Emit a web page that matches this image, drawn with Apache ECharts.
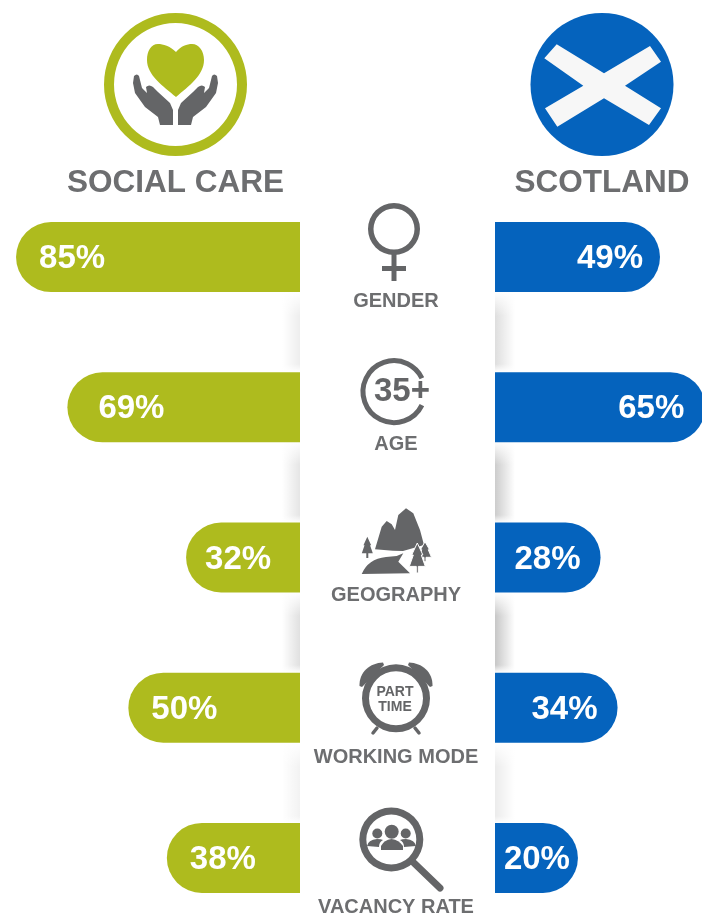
<!DOCTYPE html>
<html>
<head>
<meta charset="utf-8">
<style>html,body{margin:0;padding:0;background:#fff}#chart{width:702px;height:916px}</style>
<script src="https://cdn.jsdelivr.net/npm/echarts@6/dist/echarts.min.js"></script>
</head>
<body>
<div id="chart"></div>
<script>
var categories = ['GENDER', 'AGE', 'GEOGRAPHY', 'WORKING MODE', 'VACANCY RATE'];
var socialCare = [85, 69, 32, 50, 38];
var scotland = [49, 65, 28, 34, 20];

var OLIVE = '#aebb1e', BLUE = '#0563bd', GREY = '#6d6e70', ICON = '#646567';
var FONT = '"Liberation Sans", Arial, sans-serif';

// bars in the original are not drawn from zero, so both axes start a bit below it
var leftAxisMin = -3.5, rightAxisMin = -9.3;
var BAR_HEIGHT = 70;

// the label sits at a slightly different distance from the bar end in each row
var leftLabelGap = [23, 31, 19, 23, 23];
var rightLabelGap = [17, 21, 20, 20, 8];
var captionY = [301, 444, 595, 757, 907];

// shading beside the white centre panel, between two rows of bars
var gapTop = [292, 441, 592, 743];
var gapBottom = [372, 523, 673, 824];
var leftShade = [0.07, 0.1, 0.12, 0.05];
var rightShade = [0.13, 0.2, 0.22, 0.08];

var chart = echarts.init(document.getElementById('chart'));

function txt(s, x, y, size, fill, align) {
    return {
        type: 'text', z: 5, x: x, y: y,
        style: { text: s, fill: fill || GREY, font: 'bold ' + size + 'px ' + FONT, align: align || 'center', verticalAlign: 'middle' }
    };
}
function ring(cx, cy, r, r0, fill) {
    return { type: 'ring', z: 5, shape: { cx: cx, cy: cy, r: r, r0: r0 }, style: { fill: fill } };
}
var shapeCount = 0;
function shape(d, fill, extra) {
    // the graphic component has no plain svg path element, so register one
    var name = 'iconShape' + (shapeCount++);
    echarts.graphic.registerShape(name, echarts.graphic.extendPath(d, {}));
    return Object.assign({ type: name, z: 5, style: { fill: fill || ICON } }, extra);
}
function line(x1, y1, x2, y2, w, cap, color) {
    return { type: 'line', z: 5, shape: { x1: x1, y1: y1, x2: x2, y2: y2 }, style: { stroke: color || ICON, lineWidth: w, lineCap: cap || 'butt' } };
}
function tree(cx, top, bottom, hw) {
    var h = bottom - top;
    return 'M' + cx + ' ' + top +
        'L' + (cx + hw * 0.7) + ' ' + (top + h * 0.4) + 'L' + (cx + hw * 0.5) + ' ' + (top + h * 0.4) +
        'L' + (cx + hw) + ' ' + (top + h * 0.78) + 'L' + (cx + 1) + ' ' + (top + h * 0.78) +
        'L' + (cx + 1) + ' ' + bottom + 'L' + (cx - 1) + ' ' + bottom + 'L' + (cx - 1) + ' ' + (top + h * 0.78) +
        'L' + (cx - hw) + ' ' + (top + h * 0.78) + 'L' + (cx - hw * 0.5) + ' ' + (top + h * 0.4) +
        'L' + (cx - hw * 0.7) + ' ' + (top + h * 0.4) + 'Z';
}
function shade(x, w, y, h, alpha, toRight) {
    var c = 'rgba(0,0,0,' + alpha + ')', o = 'rgba(0,0,0,0)';
    return {
        type: 'rect', z: 1, shape: { x: x, y: y, width: w, height: h },
        style: { fill: { type: 'linear', x: 0, y: 0, x2: 1, y2: 0, colorStops: [{ offset: 0, color: toRight ? c : o }, { offset: 1, color: toRight ? o : c }] } }
    };
}
function fade(y, h, down) {
    var w = 'rgba(255,255,255,1)', o = 'rgba(255,255,255,0)';
    return {
        type: 'rect', z: 1, shape: { x: 270, y: y, width: 260, height: h },
        style: { fill: { type: 'linear', x: 0, y: 0, x2: 0, y2: 1, colorStops: [{ offset: 0, color: down ? w : o }, { offset: 1, color: down ? o : w }] } }
    };
}

var HAND = 'M133 83L134 76Q137 73 139 76L142 88L147 93L146 87Q149 84 153 87L158 92L170 103L173 110L173 125L160 125L158 117L145 107L135 93Z';
var BELL = 'M359.5 686C359 672 370 663 383 662.5L384 665L362 687Z';

var graphics = [
    ring(175.5, 84.5, 71.5, 61.5, OLIVE),
    shape('M176 52C170 46 163 44 158 44C151 44 147 51 147 60C147 75 163 86 176 97C189 86 204 75 204 60C204 51 199 44 192 44C187 44 181 46 176 52Z', OLIVE),
    shape(HAND),
    shape(HAND, ICON, { scaleX: -1, originX: 175.5 }),
    txt('SOCIAL CARE', 175.5, 183, 31.5),

    { type: 'circle', z: 5, shape: { cx: 602, cy: 84.5, r: 71.5 }, style: { fill: BLUE } },
    shape('M556.7 44.3L604 73.3L650 46L661 61.7L625 85.7L661 108.3L649 125L604 98.3L557.3 126.7L545 108.3L583.3 85.7L544.3 58.3Z', '#f7f7f7', { z: 6 }),
    txt('SCOTLAND', 602, 183, 31.5),

    // gender
    ring(394, 229, 26, 20.5, ICON),
    line(394, 254, 394, 281, 5),
    line(382, 268.5, 406, 268.5, 5),

    // age
    { type: 'arc', z: 5, shape: { cx: 394, cy: 391.7, r: 31, startAngle: 0.45, endAngle: -0.45, clockwise: true }, style: { stroke: ICON, lineWidth: 5, fill: 'none' } },
    txt('35+', 402, 392, 33, ICON),

    // geography
    shape('M375 549.3L381.7 526.7L386.7 521L391.7 524.3L395 530L398.3 515L406 508.3L413.3 513.3L420 530L424 545L403 551L393 550.7Z'),
    shape('M361.7 574Q368 559 386 557L396.7 556L403.3 553.3L398.3 561.7L410 573.3Z'),
    shape(tree(367.3, 536.7, 558, 5.5)),
    shape(tree(425, 541.7, 561.7, 6.5), ICON, { z: 6, style: { fill: ICON, stroke: '#fff', lineWidth: 1 } }),
    shape(tree(417.3, 543, 573, 8), ICON, { z: 7, style: { fill: ICON, stroke: '#fff', lineWidth: 1 } }),

    // working mode
    ring(396, 698.3, 34, 27, ICON),
    shape(BELL),
    shape(BELL, ICON, { scaleX: -1, originX: 396 }),
    line(377, 728, 373, 733, 3.5, 'round'),
    line(415, 728, 419, 733, 3.5, 'round'),
    txt('PART', 395, 692.5, 14, ICON),
    txt('TIME', 395, 707.5, 14, ICON),

    // vacancy rate
    ring(391.3, 839.5, 32, 25, ICON),
    line(414, 863, 440, 888, 7, 'round'),
    { type: 'circle', z: 5, shape: { cx: 391.7, cy: 831.7, r: 7 }, style: { fill: ICON } },
    { type: 'circle', z: 5, shape: { cx: 377.3, cy: 833.5, r: 5 }, style: { fill: ICON } },
    { type: 'circle', z: 5, shape: { cx: 405.7, cy: 833.5, r: 5 }, style: { fill: ICON } },
    shape('M381 850L381 846Q384 840 391.5 839Q399 840 403 846L403 850Z'),
    shape('M367 846Q368 840 377 839Q381 839 383 840Q379 842 379 847Z'),
    shape('M416 846Q415 840 406 839Q402 839 400 840Q404 842 404 847Z')
];

gapTop.forEach(function (top, i) {
    var h = gapBottom[i] - top;
    graphics.push(shade(282, 18, top, h, leftShade[i], false));
    graphics.push(shade(495, 20, top, h, rightShade[i], true));
    graphics.push(fade(top, 24, true));
    graphics.push(fade(gapBottom[i] - 8, 8, false));
});

categories.forEach(function (c, i) {
    graphics.push(txt(c, 396, captionY[i], 20));
});

// a bar series always grows from zero, these have to grow from the axis minimum
function barRenderer(axisMin, color, radius, labelPos, gaps) {
    return function (params, api) {
        var row = api.value(1);
        var from = api.coord([axisMin, row]);
        var to = api.coord([api.value(0), row]);
        return {
            type: 'rect',
            shape: {
                x: Math.min(from[0], to[0]), y: from[1] - BAR_HEIGHT / 2,
                width: Math.abs(to[0] - from[0]), height: BAR_HEIGHT, r: radius
            },
            style: { fill: color },
            textContent: {
                style: { text: api.value(0) + '%', fill: '#fff', font: 'bold 33px ' + FONT }
            },
            textConfig: { position: labelPos, distance: gaps[params.dataIndex], offset: [0, 2] }
        };
    };
}
function rows(values) {
    return values.map(function (v, i) { return [v, categories[i]]; });
}

var option = {
    animation: false,
    backgroundColor: '#fff',
    grid: [
        { left: 0, top: 182, width: 300, height: 751, outerBoundsMode: 'none' },
        { left: 495, top: 182, width: 240, height: 751, outerBoundsMode: 'none' }
    ],
    xAxis: [
        { gridIndex: 0, type: 'value', inverse: true, min: leftAxisMin, max: 90, show: false },
        { gridIndex: 1, type: 'value', min: rightAxisMin, max: 75.5, show: false }
    ],
    yAxis: [
        { gridIndex: 0, type: 'category', inverse: true, data: categories, show: false },
        { gridIndex: 1, type: 'category', inverse: true, data: categories, show: false }
    ],
    series: [
        {
            name: 'SOCIAL CARE', type: 'custom', xAxisIndex: 0, yAxisIndex: 0, encode: { x: 0, y: 1 }, z: 2,
            renderItem: barRenderer(leftAxisMin, OLIVE, [35, 0, 0, 35], 'insideLeft', leftLabelGap),
            data: rows(socialCare)
        },
        {
            name: 'SCOTLAND', type: 'custom', xAxisIndex: 1, yAxisIndex: 1, encode: { x: 0, y: 1 }, z: 2,
            renderItem: barRenderer(rightAxisMin, BLUE, [0, 35, 35, 0], 'insideRight', rightLabelGap),
            data: rows(scotland)
        }
    ],
    graphic: graphics
};
chart.setOption(option);
</script>
</body>
</html>
